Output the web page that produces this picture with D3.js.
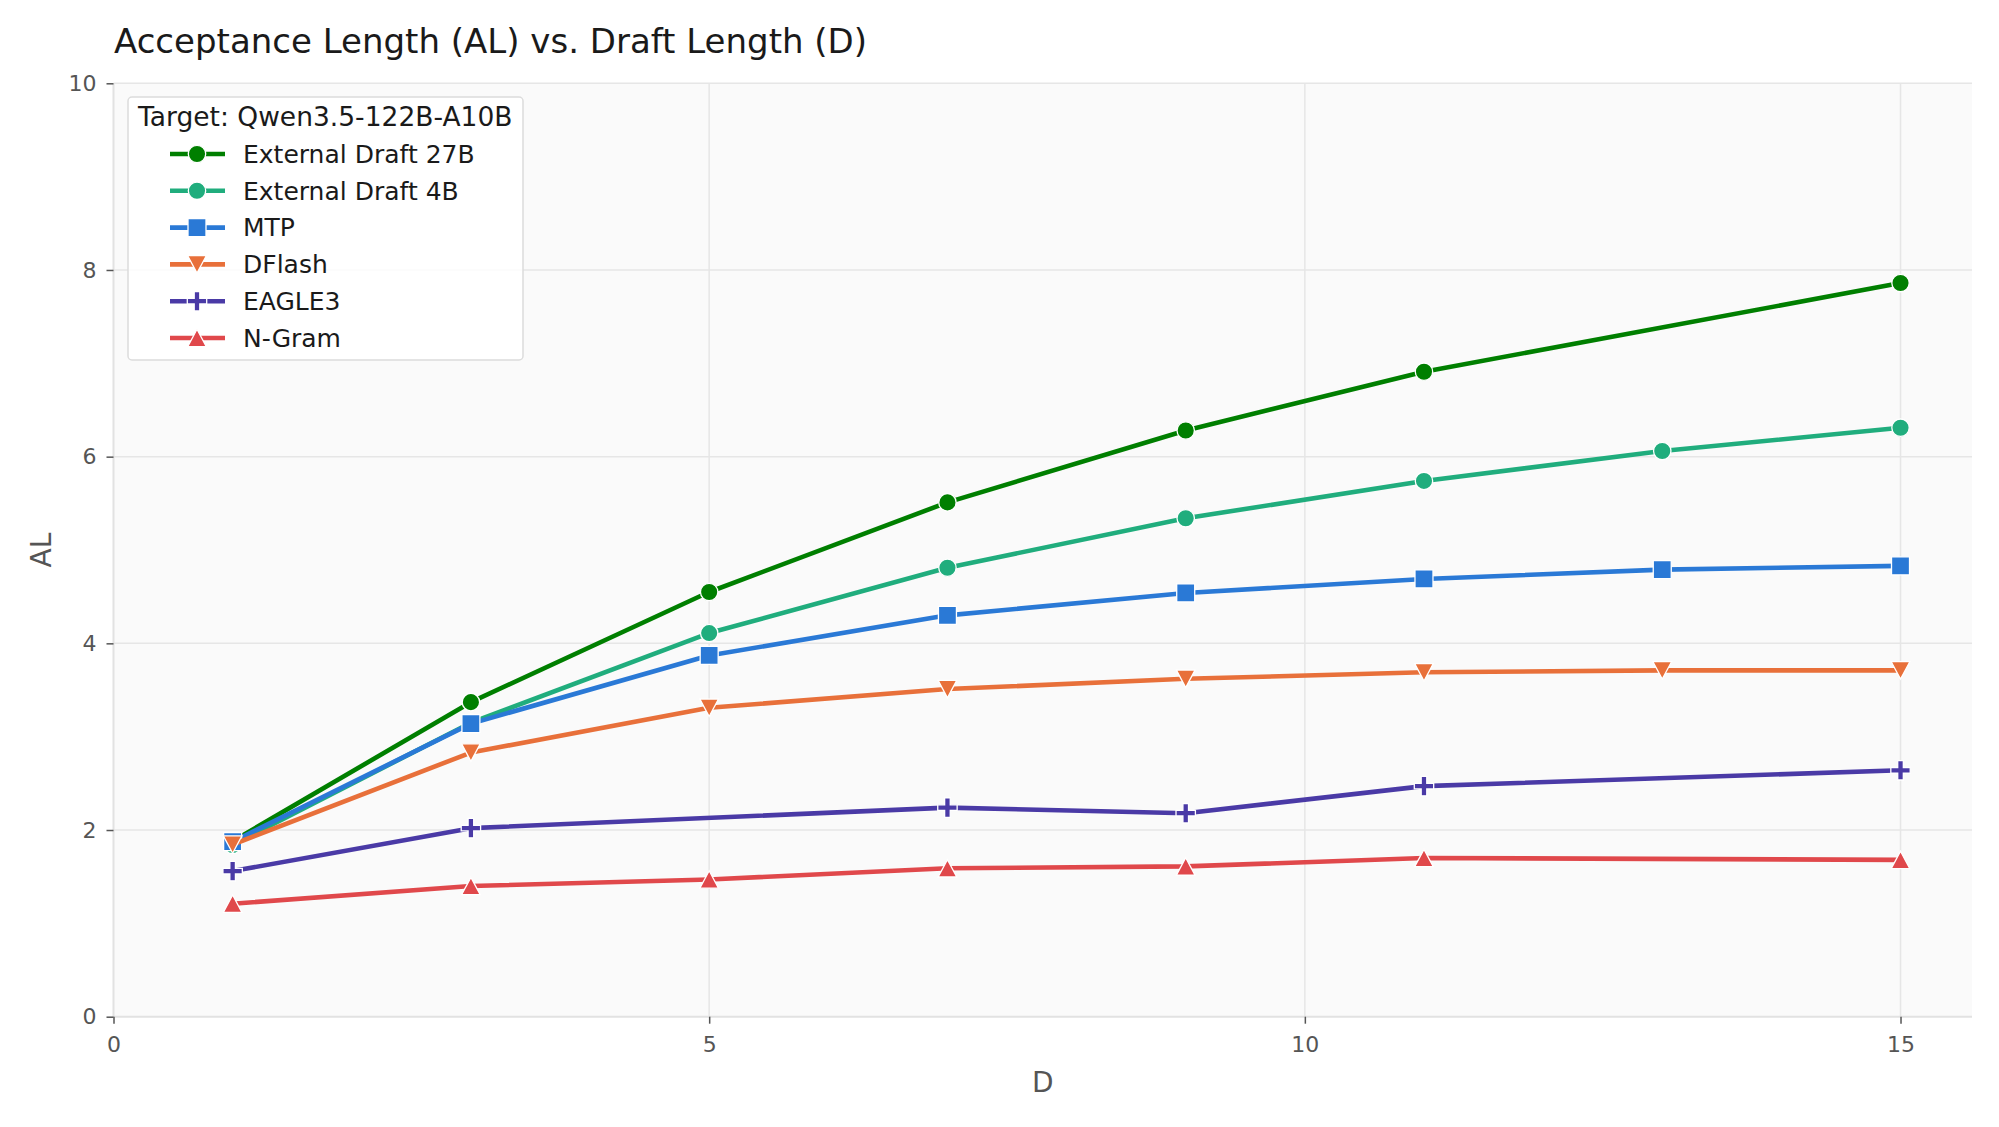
<!DOCTYPE html>
<html>
<head>
<meta charset="utf-8">
<script src="https://cdn.jsdelivr.net/npm/d3@7"></script>
<style>
  html, body { margin: 0; padding: 0; background: #fff; }
  svg { display: block; font-family: 'DejaVu Sans', sans-serif; }
</style>
</head>
<body>
<svg id="chart"></svg>
<script>
// values
const draftLengths = [1, 3, 5, 7, 9, 11, 13, 15]
const ext27X = [1, 3, 5, 7, 9, 11, 15]
const ext27Y = [1.88, 3.37, 4.55, 5.51, 6.28, 6.91, 7.86]
const ext4Y = [1.84, 3.15, 4.11, 4.81, 5.34, 5.74, 6.06, 6.31]
const mtpY = [1.875, 3.14, 3.87, 4.30, 4.54, 4.69, 4.79, 4.83]
const dflashY = [1.845, 2.83, 3.31, 3.51, 3.62, 3.69, 3.71, 3.71]
const eagleX = [1, 3, 7, 9, 11, 15]
const eagleY = [1.56, 2.02, 2.24, 2.18, 2.47, 2.64]
const ngramX = [1, 3, 5, 7, 9, 11, 15]
const ngramY = [1.21, 1.40, 1.47, 1.59, 1.61, 1.70, 1.68]

const xTicks = [0, 5, 10, 15]
const yTicks = [0, 2, 4, 6, 8, 10]

const series = [
  { name: 'External Draft 27B', xs: ext27X, ys: ext27Y, color: '#007f00', marker: 'circle' },
  { name: 'External Draft 4B', xs: draftLengths, ys: ext4Y, color: '#20ad7d', marker: 'circle' },
  { name: 'MTP', xs: draftLengths, ys: mtpY, color: '#2a79d6', marker: 'square' },
  { name: 'DFlash', xs: draftLengths, ys: dflashY, color: '#e8703a', marker: 'down' },
  { name: 'EAGLE3', xs: eagleX, ys: eagleY, color: '#4a3aa6', marker: 'plus' },
  { name: 'N-Gram', xs: ngramX, ys: ngramY, color: '#e0484b', marker: 'up' }
]

const width = 1999
const height = 1127
const plotLeft = 113.5
const plotRight = 1972
const plotTop = 83.3
const plotBottom = 1016.7

const svg = d3.select('#chart').attr('width', width).attr('height', height)

const x = d3.scaleLinear().domain([0, 15.6]).range([plotLeft, plotRight])
const y = d3.scaleLinear().domain([0, 10]).range([plotBottom, plotTop])

// plot background
svg.append('rect')
  .attr('x', plotLeft).attr('y', plotTop)
  .attr('width', plotRight - plotLeft).attr('height', plotBottom - plotTop)
  .attr('fill', '#fafafa')

// grid
svg.append('g').selectAll('line')
  .data(xTicks.filter(d => d > 0))
  .enter().append('line')
  .attr('x1', d => x(d)).attr('x2', d => x(d))
  .attr('y1', plotTop).attr('y2', plotBottom)
  .attr('stroke', '#e6e6e6').attr('stroke-width', 1.5)

svg.append('g').selectAll('line')
  .data(yTicks.filter(d => d > 0))
  .enter().append('line')
  .attr('x1', plotLeft).attr('x2', plotRight)
  .attr('y1', d => y(d)).attr('y2', d => y(d))
  .attr('stroke', '#e6e6e6').attr('stroke-width', 1.5)

// spines
svg.append('line')
  .attr('x1', plotLeft).attr('x2', plotLeft).attr('y1', plotTop).attr('y2', plotBottom)
  .attr('stroke', '#e2e2e2').attr('stroke-width', 2)
svg.append('line')
  .attr('x1', plotLeft).attr('x2', plotRight).attr('y1', plotBottom).attr('y2', plotBottom)
  .attr('stroke', '#e2e2e2').attr('stroke-width', 2)

// axes
const xAxis = svg.append('g')
  .attr('transform', 'translate(0,' + plotBottom + ')')
  .call(d3.axisBottom(x).tickValues(xTicks).tickSize(7).tickPadding(13))
const yAxis = svg.append('g')
  .attr('transform', 'translate(' + plotLeft + ',0)')
  .call(d3.axisLeft(y).tickValues(yTicks).tickSize(7).tickPadding(10))

;[xAxis, yAxis].forEach(a => {
  a.select('.domain').remove()
  a.selectAll('.tick line').attr('stroke', '#555').attr('stroke-width', 1.5)
  a.selectAll('.tick text')
    .attr('fill', '#555')
    .style('font-size', '22px')
    .style('font-family', "'DejaVu Sans', sans-serif")
})

// title and axis labels
svg.append('text')
  .attr('x', 114).attr('y', 53)
  .attr('fill', '#1a1a1a')
  .style('font-size', '34px')
  .text('Acceptance Length (AL) vs. Draft Length (D)')

svg.append('text')
  .attr('x', (plotLeft + plotRight) / 2).attr('y', 1092)
  .attr('text-anchor', 'middle')
  .attr('fill', '#555')
  .style('font-size', '28px')
  .text('D')

svg.append('text')
  .attr('transform', 'translate(51,' + (plotTop + plotBottom) / 2 + ') rotate(-90)')
  .attr('text-anchor', 'middle')
  .attr('fill', '#555')
  .style('font-size', '28px')
  .text('AL')

// marker shapes
const markerPath = {
  circle: 'M8.7,0A8.7,8.7 0 1,1 -8.7,0A8.7,8.7 0 1,1 8.7,0Z',
  square: 'M-9,-9H9V9H-9Z',
  down: 'M-9.3,-8.7H9.3L0,8.7Z',
  up: 'M0,-8.7L9.3,8.7H-9.3Z',
  plus: 'M-2.8,-9.7H2.8V-2.8H9.7V2.8H2.8V9.7H-2.8V2.8H-9.7V-2.8H-2.8Z'
}

const line = d3.line().x(d => x(d[0])).y(d => y(d[1]))

series.forEach(s => {
  const pts = s.xs.map((d, i) => [d, s.ys[i]])
  const g = svg.append('g')
  g.append('path')
    .datum(pts)
    .attr('d', line)
    .attr('fill', 'none')
    .attr('stroke', s.color)
    .attr('stroke-width', 4.6)
    .attr('stroke-linejoin', 'round')
  g.selectAll('path.m')
    .data(pts)
    .enter().append('path')
    .attr('class', 'm')
    .attr('d', markerPath[s.marker])
    .attr('transform', d => 'translate(' + x(d[0]) + ',' + y(d[1]) + ')')
    .attr('fill', s.color)
    .attr('stroke', '#fff')
    .attr('stroke-width', 1.3)
})

// legend
const legend = svg.append('g')
legend.append('rect')
  .attr('x', 128).attr('y', 97)
  .attr('width', 395).attr('height', 263)
  .attr('rx', 4)
  .attr('fill', '#fff').attr('fill-opacity', 0.85)
  .attr('stroke', '#dcdcdc').attr('stroke-width', 1.5)

legend.append('text')
  .attr('x', 138).attr('y', 126)
  .attr('fill', '#1a1a1a')
  .style('font-size', '26.5px')
  .text('Target: Qwen3.5-122B-A10B')

const rows = legend.selectAll('g.row')
  .data(series)
  .enter().append('g')
  .attr('class', 'row')
  .attr('transform', (d, i) => 'translate(0,' + (154 + i * 36.8) + ')')

rows.append('line')
  .attr('x1', 170).attr('x2', 225)
  .attr('stroke', d => d.color).attr('stroke-width', 4.6)
rows.append('path')
  .attr('d', d => markerPath[d.marker])
  .attr('transform', 'translate(197,0)')
  .attr('fill', d => d.color)
  .attr('stroke', '#fff').attr('stroke-width', 1.3)
rows.append('text')
  .attr('x', 243).attr('dy', '0.35em')
  .attr('fill', '#1a1a1a')
  .style('font-size', '25px')
  .text(d => d.name)
</script>
</body>
</html>
